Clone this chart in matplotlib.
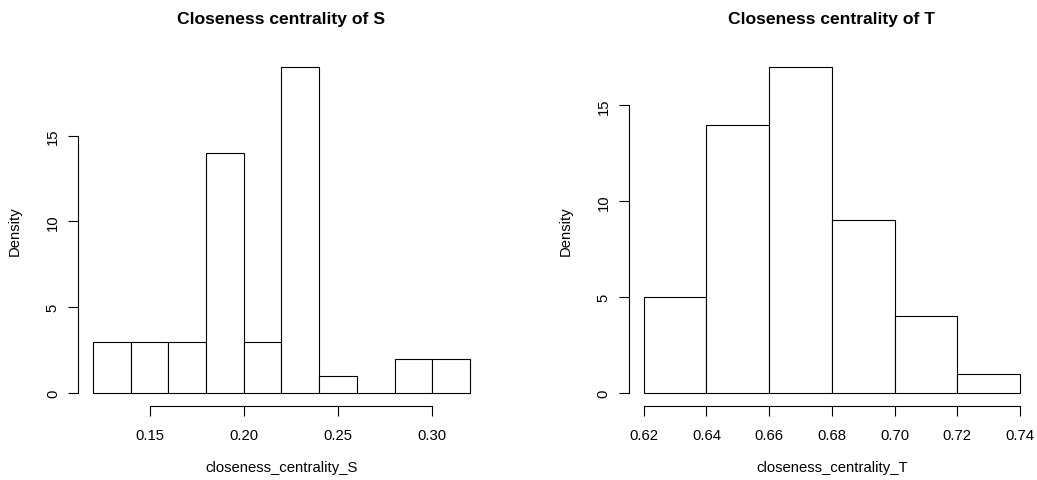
import numpy as np
import matplotlib
matplotlib.use("Agg")
import matplotlib.pyplot as plt

plt.rcParams['font.family'] = ['Liberation Sans', 'DejaVu Sans']

# densités des histogrammes (largeur de classe 0.02)
bords_S = np.round(np.arange(0.12, 0.32 + 1e-9, 0.02), 2)
densite_S = [3, 3, 3, 14, 3, 19, 1, 0, 2, 2]
ticks_x_S = [0.15, 0.20, 0.25, 0.30]
ticks_y_S = [0, 5, 10, 15]

bords_T = np.round(np.arange(0.62, 0.74 + 1e-9, 0.02), 2)
densite_T = [5, 14, 17, 9, 4, 1]
ticks_x_T = [0.62, 0.64, 0.66, 0.68, 0.70, 0.72, 0.74]
ticks_y_T = [0, 5, 10, 15]

fig = plt.figure(figsize=(10.37, 4.81), dpi=100)


def histo(rect, bords, dens, xt, yt, titre, xlab):
    ax = fig.add_axes(rect)
    larg = bords[1] - bords[0]
    ax.bar(bords[:-1], dens, width=larg, align='edge',
           facecolor='white', edgecolor='black', linewidth=0.8)
    # marges de 4 % comme dans R
    dx = (bords[-1] - bords[0]) * 0.04
    dy = max(dens) * 0.04
    ax.set_xlim(bords[0] - dx, bords[-1] + dx)
    ax.set_ylim(-dy, max(dens) + dy)
    for s in ['top', 'right']:
        ax.spines[s].set_visible(False)
    ax.spines['bottom'].set_bounds(xt[0], xt[-1])
    ax.spines['left'].set_bounds(yt[0], yt[-1])
    for s in ['bottom', 'left']:
        ax.spines[s].set_linewidth(0.8)
    ax.set_xticks(xt)
    ax.set_xticklabels([f"{v:.2f}" for v in xt])
    ax.set_yticks(yt)
    ax.set_yticklabels([str(v) for v in yt])
    ax.tick_params(length=7, width=0.8, labelsize=10.7)
    ax.tick_params(axis='x', pad=8.5)
    ax.tick_params(axis='y', pad=6, labelrotation=90)
    for lab in ax.get_yticklabels():
        lab.set_va('center')
    ax.set_ylabel("Density", fontsize=10.7, va='center')
    ax.yaxis.set_label_coords(-0.155, 0.5)
    ax.set_xlabel(xlab, fontsize=10.7, va='center')
    ax.xaxis.set_label_coords(0.5, -0.173)
    ax.set_title(titre, fontsize=12.6, fontweight='bold', y=1.102, pad=0, va='center')
    return ax


histo([0.0752, 0.1538, 0.3925, 0.7318], bords_S, densite_S, ticks_x_S, ticks_y_S,
      "Closeness centrality of S", "closeness_centrality_S")
histo([0.6062, 0.1538, 0.3919, 0.7318], bords_T, densite_T, ticks_x_T, ticks_y_T,
      "Closeness centrality of T", "closeness_centrality_T")

plt.savefig("out.png", dpi=100)
